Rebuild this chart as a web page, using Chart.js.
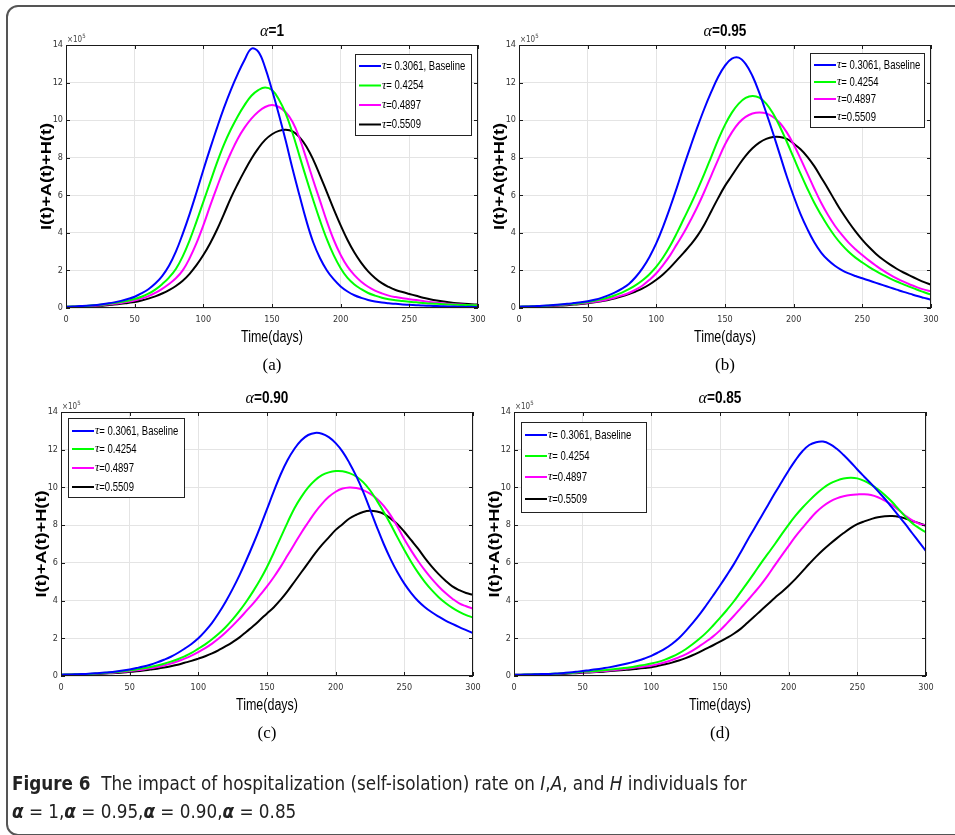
<!DOCTYPE html>
<html>
<head>
<meta charset="utf-8">
<title>Figure 6</title>
<script src="https://cdn.jsdelivr.net/npm/chart.js@4.4.1/dist/chart.umd.min.js"></script>
<style>
  html, body { margin: 0; padding: 0; background: #fff; }
  body { width: 955px; height: 835px; overflow: hidden; position: relative; }
  #frame { position: absolute; left: 6px; top: 5px; width: 1200px; height: 827px; border: 2px solid #555; border-radius: 12px; }
  canvas.panel { position: absolute; left: 0; top: 0; }
  #caption { position: absolute; left: 12px; top: 770px; font-family: "Liberation Sans Narrow", "DejaVu Sans Condensed", "Liberation Sans", sans-serif; font-size: 18.7px; line-height: 28px; color: #222; white-space: nowrap; }
  #caption i { font-style: italic; }
</style>
</head>
<body>
<div id="frame"></div>
<canvas class="panel" id="chartA" width="955" height="835"></canvas>
<canvas class="panel" id="chartB" width="955" height="835"></canvas>
<canvas class="panel" id="chartC" width="955" height="835"></canvas>
<canvas class="panel" id="chartD" width="955" height="835"></canvas>
<div id="caption"><b>Figure 6</b>&nbsp; The impact of hospitalization (self-isolation) rate on <i>I</i>,<i>A</i>, and <i>H</i> individuals for<br><b><i>α</i></b> = 1,<b><i>α</i></b> = 0.95,<b><i>α</i></b> = 0.90,<b><i>α</i></b> = 0.85</div>
<script>
// --- data (values in units of 10^5) ---
const days = [0,5,10,15,20,25,30,35,40,45,50,55,60,65,70,75,80,85,90,95,100,
  105,110,115,120,125,130,135,140,145,150,155,160,165,170,175,180,185,190,195,200,
  205,210,215,220,225,230,235,240,245,250,255,260,265,270,275,280,285,290,295,300];

const xTickValues = [0, 50, 100, 150, 200, 250, 300];
const yTickValues = [0, 2, 4, 6, 8, 10, 12, 14];

const tauLabels = ['τ= 0.3061, Baseline', 'τ= 0.4254', 'τ=0.4897', 'τ=0.5509'];
const alphaLabels = ['1', '0.95', '0.90', '0.85'];
const panelTags = ['(a)', '(b)', '(c)', '(d)'];

// alpha = 1
const a1_t3061 = [0.07,0.08,0.1,0.12,0.15,0.19,0.24,0.3,0.38,0.48,0.6,
  0.78,1.0,1.3,1.7,2.25,3.0,3.95,5.0,6.15,7.35,
  8.5,9.6,10.65,11.6,12.45,13.2,13.8,13.65,12.8,11.6,
  10.3,8.9,7.4,6.0,4.65,3.5,2.65,2.0,1.52,1.15,
  0.88,0.68,0.54,0.43,0.35,0.29,0.25,0.22,0.19,0.17,
  0.15,0.13,0.12,0.1,0.09,0.08,0.07,0.06,0.06,0.05];
const a1_t4254 = [0.07,0.08,0.09,0.11,0.14,0.17,0.21,0.26,0.32,0.39,0.48,
  0.6,0.76,0.98,1.27,1.62,2.08,2.75,3.6,4.6,5.65,
  6.7,7.75,8.7,9.5,10.2,10.8,11.3,11.6,11.74,11.6,
  11.1,10.35,9.3,8.1,6.9,5.75,4.65,3.65,2.8,2.12,
  1.6,1.25,1.0,0.8,0.66,0.55,0.47,0.41,0.37,0.33,
  0.3,0.27,0.24,0.22,0.2,0.18,0.17,0.16,0.15,0.14];
const a1_t4897 = [0.06,0.07,0.08,0.1,0.12,0.15,0.18,0.22,0.27,0.33,0.4,
  0.5,0.63,0.8,1.02,1.28,1.58,2.0,2.65,3.45,4.4,
  5.45,6.45,7.4,8.25,9.0,9.6,10.08,10.45,10.7,10.8,
  10.7,10.42,9.9,9.05,7.95,6.8,5.7,4.6,3.62,2.82,
  2.2,1.75,1.4,1.13,0.93,0.78,0.66,0.58,0.52,0.47,
  0.42,0.37,0.32,0.28,0.24,0.21,0.19,0.17,0.15,0.14];
const a1_t5509 = [0.05,0.06,0.07,0.08,0.1,0.12,0.15,0.18,0.22,0.27,0.32,
  0.4,0.5,0.62,0.77,0.95,1.17,1.45,1.82,2.28,2.82,
  3.45,4.18,5.0,5.85,6.6,7.3,7.95,8.5,8.95,9.25,
  9.43,9.49,9.4,9.1,8.6,7.9,7.05,6.15,5.25,4.4,
  3.62,2.95,2.4,1.95,1.6,1.32,1.12,0.96,0.85,0.75,
  0.65,0.55,0.47,0.4,0.34,0.29,0.25,0.22,0.2,0.18];

// alpha = 0.95
const a095_t3061 = [0.07,0.08,0.09,0.11,0.13,0.16,0.19,0.22,0.26,0.3,0.36,
  0.44,0.54,0.67,0.83,1.03,1.28,1.65,2.12,2.72,3.45,
  4.35,5.35,6.42,7.55,8.62,9.65,10.62,11.5,12.3,12.9,
  13.28,13.33,13.0,12.35,11.45,10.4,9.3,8.15,7.0,5.95,
  5.0,4.2,3.5,2.95,2.55,2.25,2.02,1.84,1.7,1.58,
  1.46,1.34,1.22,1.1,0.98,0.86,0.75,0.64,0.54,0.44];
const a095_t4254 = [0.07,0.08,0.09,0.1,0.12,0.14,0.17,0.2,0.23,0.27,0.32,
  0.38,0.46,0.56,0.68,0.82,1.0,1.22,1.48,1.8,2.2,
  2.7,3.3,4.0,4.75,5.5,6.3,7.15,8.05,8.95,9.75,
  10.4,10.88,11.18,11.29,11.2,10.88,10.35,9.65,8.85,8.0,
  7.15,6.35,5.6,4.95,4.35,3.82,3.37,2.99,2.68,2.42,
  2.18,1.96,1.76,1.58,1.41,1.26,1.11,0.97,0.84,0.71];
const a095_t4897 = [0.06,0.07,0.08,0.09,0.11,0.13,0.15,0.18,0.21,0.24,0.28,
  0.33,0.39,0.47,0.56,0.67,0.8,0.98,1.2,1.5,1.85,
  2.3,2.8,3.4,4.0,4.68,5.4,6.2,7.05,7.9,8.7,
  9.35,9.85,10.17,10.35,10.41,10.36,10.17,9.85,9.35,8.7,
  7.95,7.15,6.35,5.6,4.95,4.38,3.9,3.48,3.13,2.82,
  2.52,2.25,2.0,1.78,1.58,1.4,1.24,1.1,0.98,0.88];
const a095_t5509 = [0.05,0.06,0.07,0.08,0.09,0.11,0.13,0.15,0.18,0.21,0.25,
  0.3,0.36,0.43,0.52,0.62,0.74,0.88,1.04,1.25,1.5,
  1.8,2.15,2.55,2.95,3.37,3.85,4.45,5.15,5.85,6.5,
  7.05,7.6,8.1,8.5,8.8,9.0,9.1,9.1,9.0,8.75,
  8.45,8.05,7.55,6.95,6.35,5.72,5.12,4.58,4.08,3.63,
  3.23,2.88,2.58,2.32,2.09,1.89,1.71,1.54,1.38,1.24];

// alpha = 0.90
const a090_t3061 = [0.07,0.08,0.09,0.1,0.12,0.14,0.17,0.2,0.24,0.29,0.35,
  0.42,0.5,0.6,0.72,0.86,1.02,1.22,1.45,1.7,2.0,
  2.38,2.82,3.35,3.95,4.62,5.35,6.15,7.0,7.9,8.85,
  9.8,10.7,11.45,12.05,12.5,12.78,12.89,12.85,12.67,12.35,
  11.9,11.3,10.6,9.78,8.85,7.9,7.0,6.2,5.5,4.9,
  4.4,3.98,3.65,3.38,3.15,2.94,2.76,2.59,2.43,2.27];
const a090_t4254 = [0.07,0.08,0.09,0.1,0.11,0.13,0.15,0.18,0.21,0.25,0.3,
  0.35,0.41,0.48,0.56,0.65,0.76,0.89,1.04,1.22,1.45,
  1.68,1.95,2.25,2.6,3.0,3.45,3.95,4.5,5.1,5.78,
  6.55,7.35,8.15,8.9,9.5,10.0,10.38,10.65,10.8,10.87,
  10.86,10.76,10.58,10.28,9.85,9.3,8.7,8.05,7.35,6.68,
  6.05,5.48,4.98,4.55,4.18,3.87,3.61,3.4,3.23,3.1];
const a090_t4897 = [0.06,0.07,0.08,0.09,0.1,0.12,0.14,0.16,0.19,0.22,0.26,
  0.3,0.35,0.41,0.48,0.56,0.66,0.78,0.92,1.08,1.27,
  1.48,1.72,2.0,2.32,2.67,3.05,3.45,3.85,4.3,4.75,
  5.25,5.8,6.4,7.0,7.6,8.15,8.68,9.13,9.5,9.77,
  9.94,10.0,9.97,9.86,9.67,9.4,9.02,8.52,7.92,7.25,
  6.65,6.1,5.6,5.15,4.75,4.4,4.1,3.85,3.7,3.58];
const a090_t5509 = [0.05,0.06,0.07,0.08,0.09,0.1,0.12,0.14,0.16,0.19,0.22,
  0.25,0.29,0.34,0.39,0.45,0.52,0.6,0.7,0.8,0.92,
  1.05,1.2,1.38,1.58,1.8,2.05,2.35,2.65,2.98,3.32,
  3.65,4.05,4.5,5.0,5.5,6.0,6.5,6.95,7.35,7.75,
  8.05,8.35,8.55,8.7,8.76,8.72,8.6,8.35,8.05,7.65,
  7.2,6.75,6.25,5.8,5.4,5.05,4.75,4.55,4.4,4.3];

// alpha = 0.85
const a085_t3061 = [0.06,0.07,0.08,0.09,0.1,0.11,0.13,0.15,0.18,0.22,0.27,
  0.31,0.355,0.41,0.47,0.54,0.62,0.71,0.81,0.93,1.07,
  1.25,1.45,1.7,2.0,2.38,2.8,3.25,3.75,4.27,4.8,
  5.35,5.92,6.55,7.2,7.82,8.45,9.07,9.7,10.3,10.9,
  11.45,11.92,12.25,12.4,12.43,12.3,12.05,11.72,11.35,10.95,
  10.57,10.2,9.8,9.4,8.95,8.5,8.05,7.57,7.1,6.62];
const a085_t4254 = [0.06,0.07,0.08,0.09,0.1,0.11,0.12,0.14,0.16,0.19,0.22,
  0.245,0.27,0.305,0.34,0.38,0.42,0.47,0.53,0.59,0.66,
  0.75,0.87,1.02,1.2,1.42,1.68,1.97,2.3,2.68,3.08,
  3.5,3.95,4.45,4.95,5.47,6.0,6.5,7.0,7.52,8.03,
  8.5,8.92,9.3,9.65,9.96,10.2,10.36,10.47,10.51,10.48,
  10.35,10.15,9.9,9.6,9.25,8.85,8.45,8.1,7.84,7.62];
const a085_t4897 = [0.06,0.065,0.07,0.08,0.09,0.1,0.11,0.13,0.15,0.17,0.19,
  0.21,0.23,0.26,0.29,0.33,0.37,0.41,0.46,0.5,0.55,
  0.63,0.73,0.85,0.99,1.15,1.35,1.58,1.83,2.1,2.42,
  2.79,3.18,3.59,4.0,4.42,4.86,5.35,5.88,6.4,6.9,
  7.4,7.85,8.28,8.68,9.0,9.25,9.42,9.53,9.6,9.63,
  9.64,9.6,9.48,9.3,9.08,8.8,8.5,8.25,8.08,7.97];
const a085_t5509 = [0.05,0.055,0.06,0.07,0.08,0.09,0.1,0.11,0.13,0.15,0.17,
  0.19,0.21,0.23,0.26,0.29,0.32,0.35,0.39,0.43,0.47,
  0.54,0.62,0.71,0.82,0.95,1.1,1.27,1.45,1.63,1.82,
  2.02,2.24,2.5,2.82,3.15,3.49,3.82,4.15,4.46,4.79,
  5.15,5.55,5.95,6.33,6.68,7.0,7.3,7.58,7.84,8.05,
  8.2,8.32,8.42,8.47,8.48,8.45,8.35,8.22,8.1,7.97];

const lineColors = ['#0000ff', '#00ff00', '#ff00ff', '#000000'];

// --- layout of the four panels (page pixels) ---
const W = 955, H = 835;
const Y_W = 30, X_H = 22;
const NARROW = '"Liberation Sans Narrow", "DejaVu Sans Condensed", "Liberation Sans", sans-serif';
const SANS = '"Liberation Sans", Arial, sans-serif';
const SERIF = '"Liberation Serif", "DejaVu Serif", serif';

const panels = [
  { id: 'chartA', series: [a1_t3061, a1_t4254, a1_t4897, a1_t5509],
    area: { left: 66, top: 45, right: 478, bottom: 308 },
    legend: { x: 355, y: 54, w: 116, h: 81, rows: [66, 85.5, 105, 124.5] } },
  { id: 'chartB', series: [a095_t3061, a095_t4254, a095_t4897, a095_t5509],
    area: { left: 519, top: 45, right: 931, bottom: 308 },
    legend: { x: 810, y: 53, w: 114, h: 74, rows: [65, 82, 99, 117] } },
  { id: 'chartC', series: [a090_t3061, a090_t4254, a090_t4897, a090_t5509],
    area: { left: 61, top: 412, right: 473, bottom: 676 },
    legend: { x: 68, y: 418, w: 116, h: 79, rows: [431, 449, 468, 487] } },
  { id: 'chartD', series: [a085_t3061, a085_t4254, a085_t4897, a085_t5509],
    area: { left: 514, top: 412, right: 926, bottom: 676 },
    legend: { x: 521, y: 422, w: 125, h: 90, rows: [435, 456, 477, 499] } }
];

// draws text squeezed sideways so it looks like a narrow face
function squeezed(ctx, text, x, y, sx) {
  ctx.save();
  ctx.translate(x, y);
  ctx.scale(sx, 1);
  ctx.fillText(text, 0, 0);
  ctx.restore();
}

// box, inward ticks, titles and legend drawn on top of the plot
const panelDecor = {
  id: 'panelDecor',
  afterDraw(chart, args, opts) {
    const ctx = chart.ctx;
    const { left, top, right, bottom } = chart.chartArea;
    const xs = chart.scales.x, ys = chart.scales.y;
    const cx = (left + right) / 2;
    ctx.save();

    // axes box + tick marks pointing inwards
    ctx.strokeStyle = '#1a1a1a';
    ctx.lineWidth = 1;
    ctx.strokeRect(left + 0.5, top + 0.5, right - left - 1, bottom - top - 1);
    ctx.beginPath();
    xTickValues.forEach(v => {
      const px = Math.round(xs.getPixelForValue(v)) + 0.5;
      ctx.moveTo(px, bottom); ctx.lineTo(px, bottom - 4);
      ctx.moveTo(px, top); ctx.lineTo(px, top + 4);
    });
    yTickValues.forEach(v => {
      const py = Math.round(ys.getPixelForValue(v)) + 0.5;
      ctx.moveTo(left, py); ctx.lineTo(left + 4, py);
      ctx.moveTo(right, py); ctx.lineTo(right - 4, py);
    });
    ctx.stroke();

    // exponent label
    ctx.fillStyle = '#444';
    ctx.textAlign = 'left';
    ctx.textBaseline = 'alphabetic';
    ctx.font = `8px ${NARROW}`;
    ctx.fillText('×10', left + 1, top - 3);
    const ew = ctx.measureText('×10').width;
    ctx.font = `6px ${NARROW}`;
    ctx.fillText('5', left + 1 + ew, top - 7);

    // panel title: alpha=...
    ctx.fillStyle = '#000';
    ctx.textBaseline = 'middle';
    ctx.font = `italic 16px ${SERIF}`;
    const wa = ctx.measureText('α').width;
    ctx.font = `bold 16px ${SANS}`;
    const rest = '=' + opts.alpha;
    const wr = ctx.measureText(rest).width * 0.85;
    const tx = cx - (wa + wr) / 2;
    ctx.font = `italic 16px ${SERIF}`;
    ctx.fillText('α', tx, top - 13);
    ctx.font = `bold 16px ${SANS}`;
    squeezed(ctx, rest, tx + wa, top - 13, 0.85);

    // axis titles
    ctx.font = `16px ${SANS}`;
    const xw = ctx.measureText('Time(days)').width;
    squeezed(ctx, 'Time(days)', cx - 31, bottom + 30, 62 / xw);
    ctx.textAlign = 'center';
    ctx.font = `17px ${SERIF}`;
    ctx.fillText(opts.tag, cx, bottom + 58);

    ctx.save();
    ctx.translate(left - 19, (top + bottom) / 2);
    ctx.rotate(-Math.PI / 2);
    ctx.font = `bold 14px ${SANS}`;
    const yw = ctx.measureText('I(t)+A(t)+H(t)').width;
    ctx.scale(107 / yw, 1);
    ctx.fillText('I(t)+A(t)+H(t)', 0, 0);
    ctx.restore();

    // legend box
    const lg = opts.legend;
    ctx.fillStyle = '#fff';
    ctx.fillRect(lg.x, lg.y, lg.w, lg.h);
    ctx.strokeStyle = '#222';
    ctx.lineWidth = 1;
    ctx.strokeRect(lg.x + 0.5, lg.y + 0.5, lg.w, lg.h);
    ctx.textAlign = 'left';
    ctx.font = `13px ${SANS}`;
    const lsx = 79 / ctx.measureText(tauLabels[0].slice(1)).width;
    chart.data.datasets.forEach((ds, i) => {
      const y = lg.rows[i];
      ctx.strokeStyle = ds.borderColor;
      ctx.lineWidth = 2;
      ctx.beginPath();
      ctx.moveTo(lg.x + 4, y); ctx.lineTo(lg.x + 26, y);
      ctx.stroke();
      ctx.fillStyle = '#000';
      ctx.font = `italic 12px ${SERIF}`;
      ctx.fillText(ds.label[0], lg.x + 27, y);
      const tw = ctx.measureText(ds.label[0]).width;
      ctx.font = `13px ${SANS}`;
      squeezed(ctx, ds.label.slice(1), lg.x + 27 + tw, y, lsx);
    });
    ctx.restore();
  }
};

function makePanel(p, idx) {
  const a = p.area;
  const datasets = p.series.map((vals, i) => ({
    label: tauLabels[i],
    data: vals.map((v, k) => ({ x: days[k], y: v })),
    borderColor: lineColors[i],
    borderWidth: 2,
    pointRadius: 0,
    fill: false,
    tension: 0.4
  }));
  return new Chart(document.getElementById(p.id), {
    type: 'line',
    data: { datasets: datasets },
    options: {
      responsive: false,
      animation: false,
      devicePixelRatio: 1,
      layout: { padding: { left: a.left - Y_W, top: a.top, right: W - a.right, bottom: H - a.bottom - X_H } },
      plugins: {
        legend: { display: false },
        tooltip: { enabled: false },
        panelDecor: { alpha: alphaLabels[idx], tag: panelTags[idx], legend: p.legend }
      },
      scales: {
        x: {
          type: 'linear', min: 0, max: 300,
          afterBuildTicks: s => { s.ticks = xTickValues.map(v => ({ value: v })); },
          afterFit: s => { s.height = X_H; },
          grid: { color: '#e4e4e4', lineWidth: 1, drawTicks: false },
          border: { display: false },
          ticks: { color: '#333', font: { family: NARROW, size: 9 }, padding: 6, maxRotation: 0, autoSkip: false }
        },
        y: {
          type: 'linear', min: 0, max: 14,
          afterBuildTicks: s => { s.ticks = yTickValues.map(v => ({ value: v })); },
          afterFit: s => { s.width = Y_W; },
          grid: { color: '#e4e4e4', lineWidth: 1, drawTicks: false },
          border: { display: false },
          ticks: { color: '#333', font: { family: NARROW, size: 9 }, padding: 3, autoSkip: false }
        }
      }
    },
    plugins: [panelDecor]
  });
}

panels.forEach((p, i) => makePanel(p, i));
</script>
</body>
</html>
